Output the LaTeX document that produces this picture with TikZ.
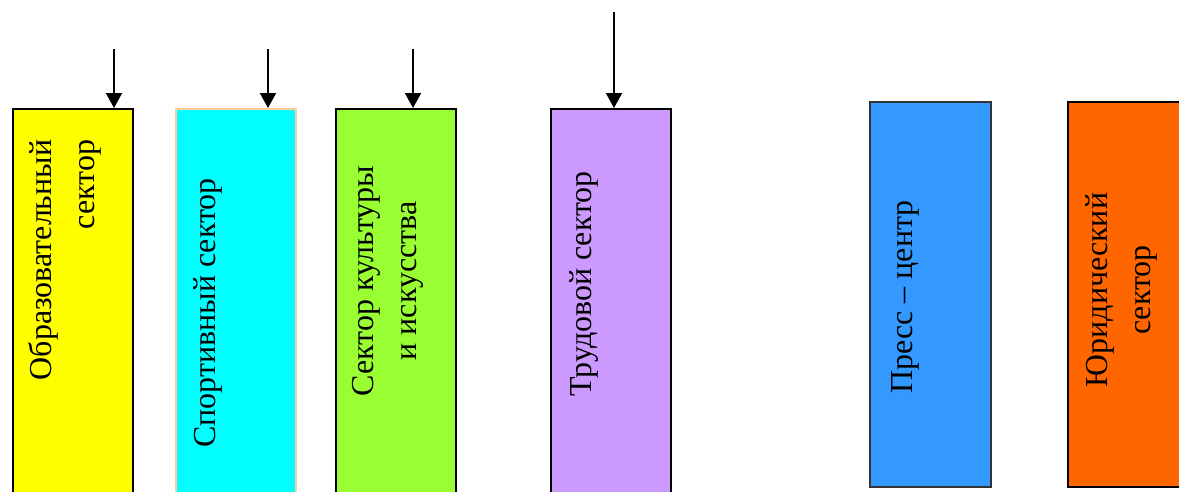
\documentclass[tikz,border=0pt]{standalone}
\usepackage{fontspec}
\setmainfont{Liberation Serif}
\usetikzlibrary{arrows.meta}
\definecolor{obryellow}{HTML}{FFFF00}
\definecolor{sportcyan}{HTML}{00FFFF}
\definecolor{cultgreen}{HTML}{99FF33}
\definecolor{trudviolet}{HTML}{CC99FF}
\definecolor{pressblue}{HTML}{3399FF}
\definecolor{jurorange}{HTML}{FF6600}
\definecolor{peach}{HTML}{FFCC99}
\begin{document}
\begin{tikzpicture}[x=1pt, y=-1pt, >={Triangle[width=16pt,length=15pt]}, line width=2pt,
  sector/.style={draw=black, line width=1.5pt, inner sep=0pt, minimum width=120pt, anchor=north west},
  caption/.style={rotate=90, inner sep=0pt, font=\fontsize{32}{43}\selectfont}]
\useasboundingbox (0,0) rectangle (1179,491);
\node[sector, fill=obryellow, minimum height=400pt] (obr) at (12,108) {};
\node[sector, fill=sportcyan, draw=peach, minimum height=400pt] (sport) at (175,108) {};
\node[sector, fill=cultgreen, minimum height=400pt] (cult) at (335,108) {};
\node[sector, fill=trudviolet, minimum height=400pt] (trud) at (550,108) {};
\node[sector, fill=pressblue, draw=black!80, minimum width=121pt, minimum height=385pt] (press) at (869,101) {};
\node[sector, fill=jurorange, minimum width=130pt, minimum height=385pt] (jur) at (1067,101) {};
% texts
\node[caption, align=right] (obrtext) at (65,260) {Образовательный\\сектор};
\node[caption] (sporttext) at (208,313) {Спортивный сектор};
\node[caption, align=center] (culttext) at (388,281) {Сектор культуры\\и искусства};
\node[caption] (trudtext) at (584,284) {Трудовой сектор};
\node[caption] (presstext) at (905,297) {Пресс – центр};
\node[caption, align=center] (jurtext) at (1121,290) {Юридический\\сектор};
% incoming arrows
\coordinate (in1) at (114,49);
\coordinate (in2) at (268,49);
\coordinate (in3) at (413,49);
\coordinate (in4) at (614,12);
\draw[->] (in1) -- (in1 |- obr.north);
\draw[->] (in2) -- (in2 |- sport.north);
\draw[->] (in3) -- (in3 |- cult.north);
\draw[->] (in4) -- (in4 |- trud.north);
\end{tikzpicture}
\end{document}
